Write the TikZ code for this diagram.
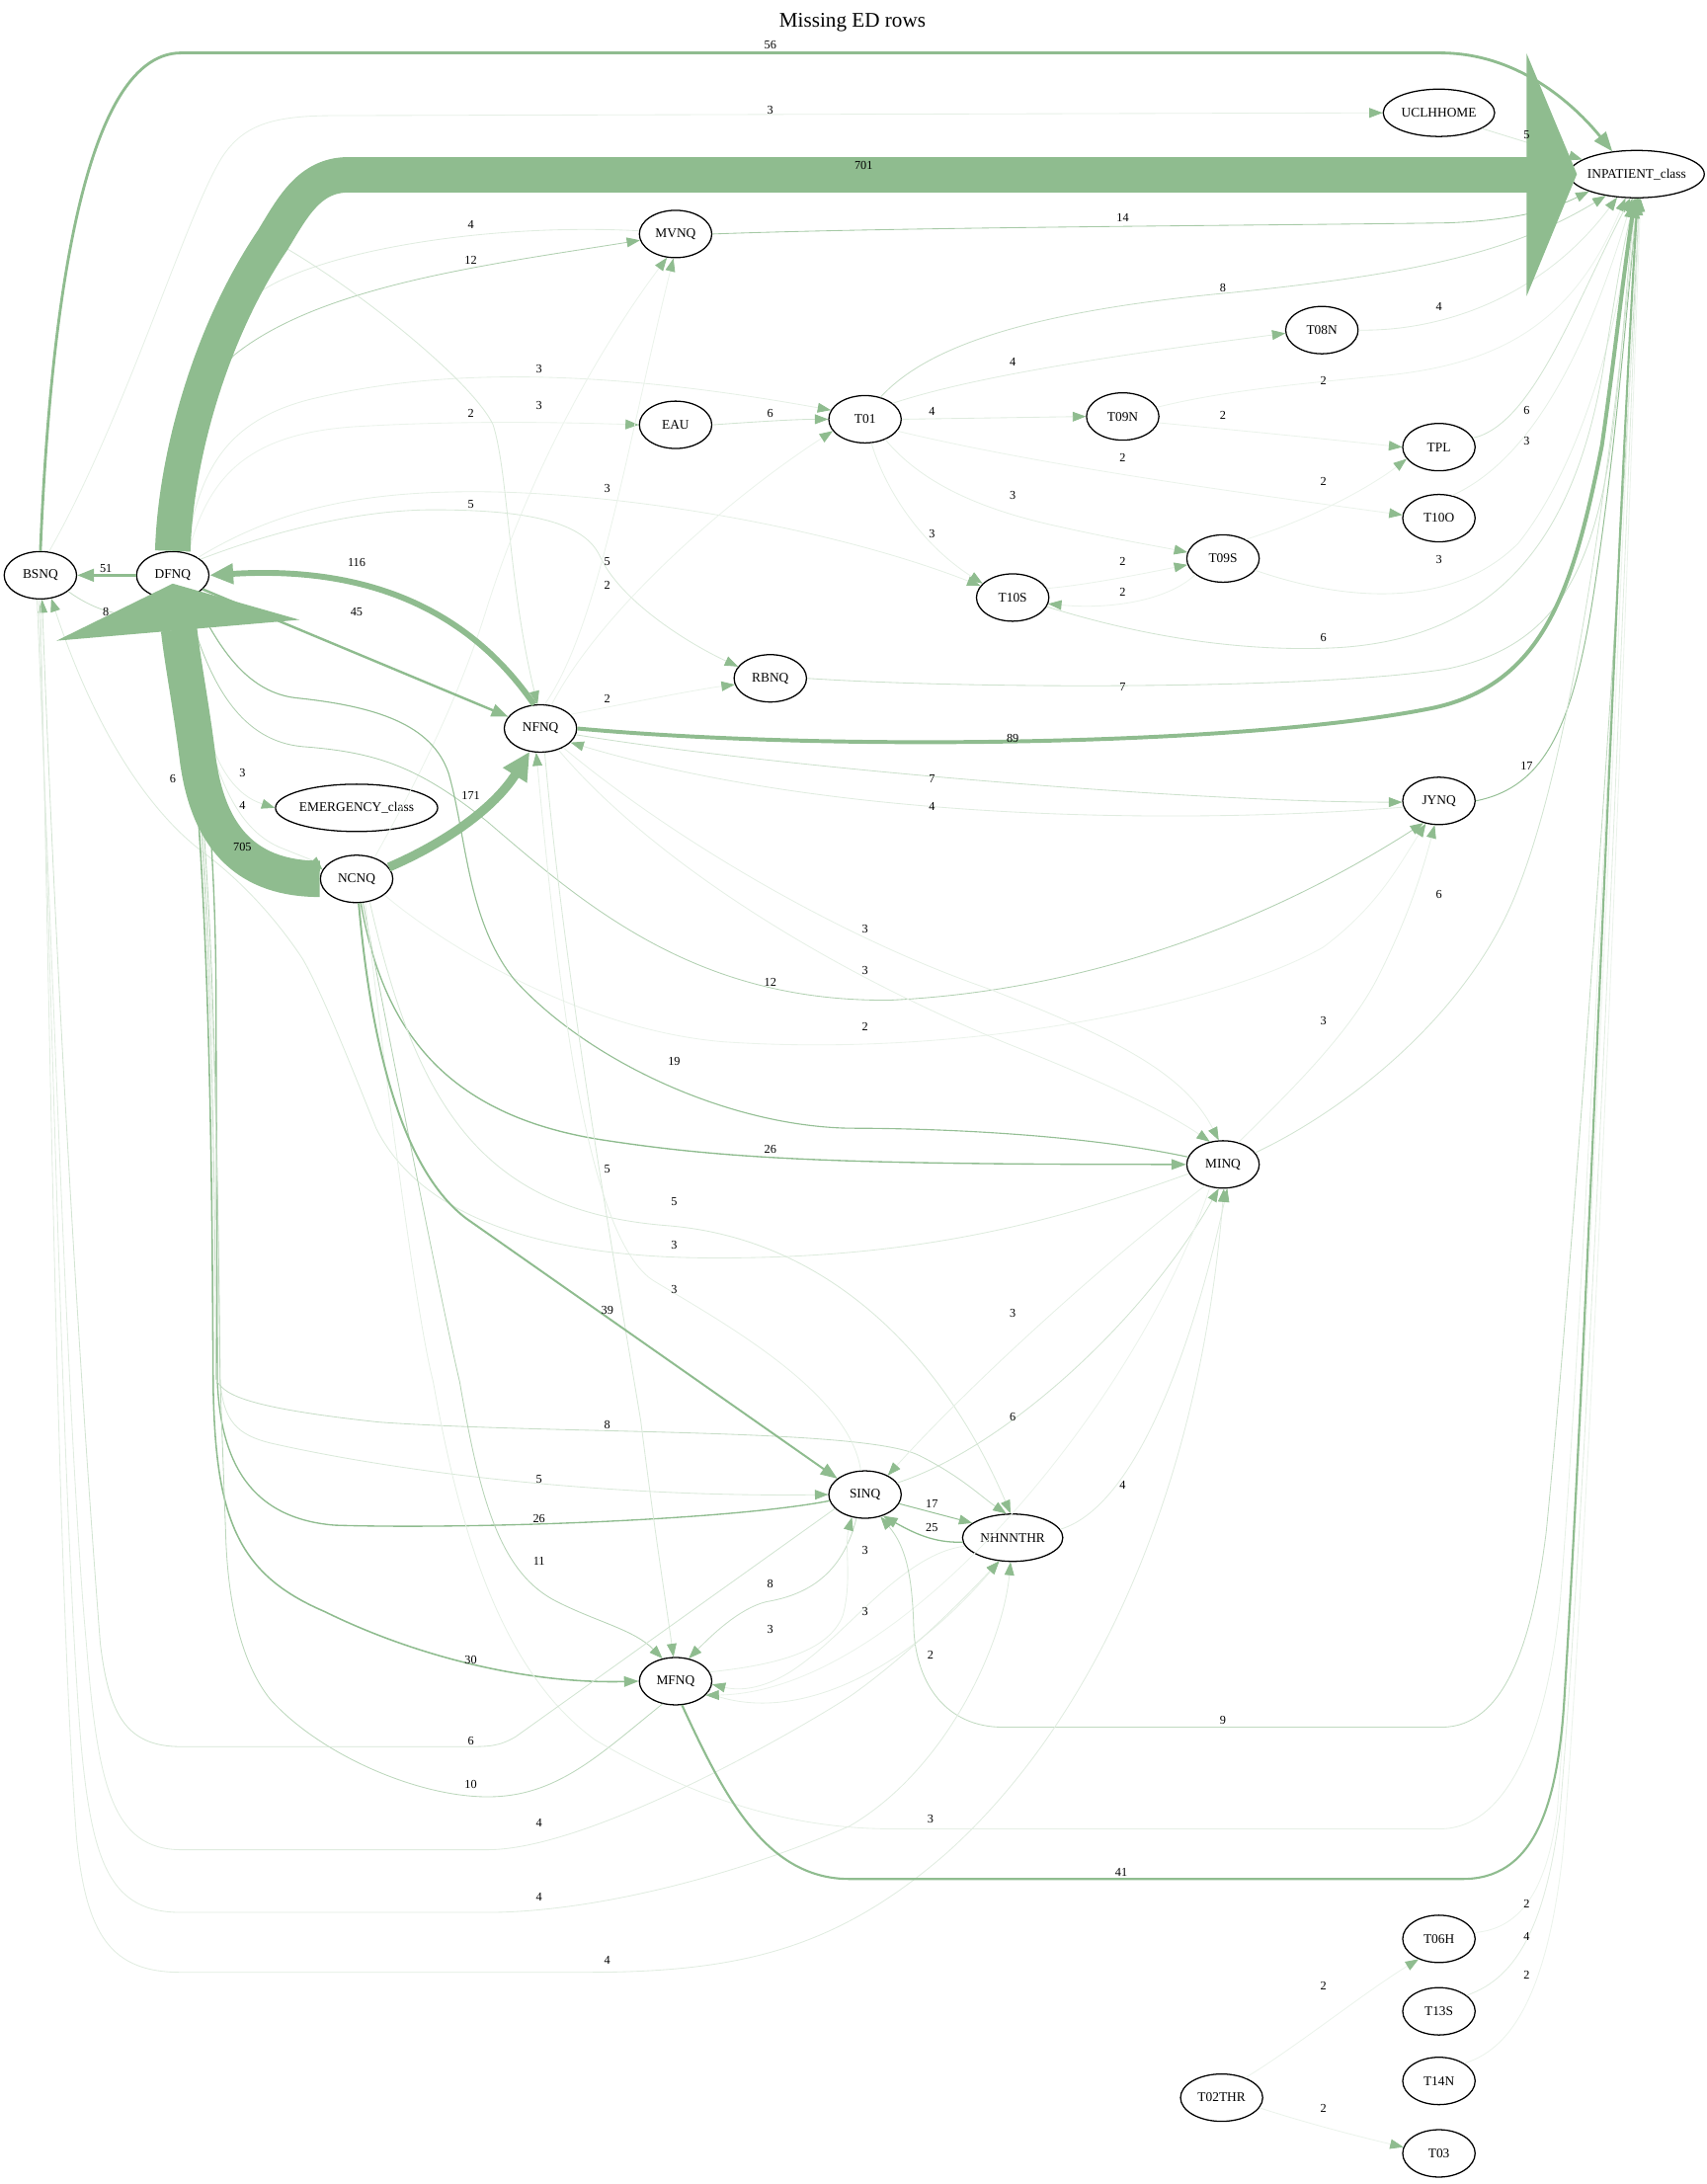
\documentclass[tikz,border=0pt]{standalone}
\usepackage{fontspec}
\setmainfont{Liberation Serif}
\usetikzlibrary{shapes.geometric,arrows.meta}
\definecolor{sg}{HTML}{8FBC8F}
\tikzset{
  nd/.style={ellipse, draw=black, line width=0.9pt, minimum width=52pt, minimum height=34pt, inner sep=0pt, font=\fontsize{9.5}{11}\selectfont},
  lab/.style={inner sep=0pt, font=\fontsize{8.7}{10}\selectfont},
  tip0/.style={-{Triangle[length=9.5pt,width=7pt,color=sg,fill=sg]}},
  tipA/.style={-{Triangle[length=12pt,width=9pt,color=sg,fill=sg]}},
  tipB/.style={-{Triangle[length=14pt,width=10.5pt,color=sg,fill=sg]}},
  tipC/.style={-{Triangle[length=17pt,width=14pt,color=sg,fill=sg]}},
  tipD/.style={-{Triangle[length=20pt,width=19pt,color=sg,fill=sg]}},
  ln/.style={draw=sg!#1!white, line width=0.6pt, tip0},
  lnw/.style={draw=sg, line width=#1, -{Triangle[length=10.5pt,width=7.5pt,color=sg,fill=sg]}}
}
\begin{document}
\begin{tikzpicture}[x=1pt,y=-1pt]
\useasboundingbox (0,0) rectangle (1225,1568);

\node[font=\fontsize{15}{18}\selectfont] (title) at (612,16) {Missing ED rows};

% nodes
\node[nd] (BSNQ) at (29,413) {BSNQ};
\node[nd] (DFNQ) at (124,413) {DFNQ};
\node[nd, minimum width=97pt, inner xsep=-2pt] (INP) at (1175,125) {INPATIENT\_class};
\node[nd, minimum width=80pt] (UCLH) at (1033,81) {UCLHHOME};
\node[nd] (MVNQ) at (485,168) {MVNQ};
\node[nd] (EAU) at (485,305) {EAU};
\node[nd] (T01) at (621,301) {T01};
\node[nd] (T08N) at (949,237) {T08N};
\node[nd] (T09N) at (806,299) {T09N};
\node[nd] (TPL) at (1033,321) {TPL};
\node[nd] (T10O) at (1033,372) {T10O};
\node[nd] (T09S) at (878,401) {T09S};
\node[nd] (T10S) at (727,429) {T10S};
\node[nd] (RBNQ) at (553,487) {RBNQ};
\node[nd] (NFNQ) at (388,523) {NFNQ};
\node[nd] (JYNQ) at (1033,575) {JYNQ};
\node[nd] (EMER) at (256,580) {EMERGENCY\_class};
\node[nd] (NCNQ) at (256,631) {NCNQ};
\node[nd] (MINQ) at (878,836) {MINQ};
\node[nd] (SINQ) at (621,1073) {SINQ};
\node[nd, minimum width=72pt] (NHNN) at (727,1104) {NHNNTHR};
\node[nd] (MFNQ) at (485,1207) {MFNQ};
\node[nd] (T06H) at (1033,1392) {T06H};
\node[nd] (T13S) at (1033,1444) {T13S};
\node[nd] (T14N) at (1033,1494) {T14N};
\node[nd, minimum width=59pt] (T02) at (877,1506) {T02THR};
\node[nd] (T03) at (1033,1546) {T03};

% ---------- thin edges ----------
\draw[ln=22] (BSNQ.70) .. controls (90,300) and (135,150) .. (160,112) .. controls (175,90) and (195,83) .. (240,83) -- (UCLH.west);
\draw[ln=33] (UCLH.-20) -- (INP.165);
\draw[ln=80] (MVNQ.east) .. controls (650,163) and (900,162) .. (1040,160) .. controls (1090,158) and (1115,150) .. (INP.200);
\draw[ln=70] (DFNQ.80) .. controls (135,320) and (140,285) .. (168,255) .. controls (230,205) and (350,190) .. (MVNQ.190);
\draw[ln=28] (MVNQ.175) .. controls (350,160) and (230,180) .. (186,210) .. controls (150,240) and (130,330) .. (DFNQ.95);
\draw[ln=22] (DFNQ.60) .. controls (143,340) and (160,300) .. (230,285) .. controls (330,262) and (450,268) .. (T01.165);
\draw[ln=18] (DFNQ.55) .. controls (150,340) and (180,310) .. (260,306) .. controls (330,302) and (400,303) .. (EAU.west);
\draw[ln=22] (DFNQ.35) .. controls (200,365) and (260,353) .. (340,353) .. controls (450,353) and (600,380) .. (T10S.160);
\draw[ln=33] (DFNQ.30) .. controls (200,380) and (260,366) .. (311,366) .. controls (380,366) and (420,375) .. (431,400) .. controls (445,430) and (490,460) .. (RBNQ.160);
\draw[ln=33] (DFNQ.88) .. controls (130,280) and (170,200) .. (205,178) .. controls (260,210) and (340,275) .. (354,305) .. controls (365,340) and (365,420) .. (NFNQ.97);
\draw[ln=40] (EAU.east) .. controls (540,303) and (570,301) .. (T01.180);
\draw[ln=18] (NFNQ.65) .. controls (430,440) and (520,360) .. (T01.200);
\draw[ln=18] (NFNQ.25) .. controls (450,505) and (500,495) .. (RBNQ.190);
\draw[ln=18] (NFNQ.80) .. controls (430,450) and (450,320) .. (MVNQ.-95);
\draw[ln=18] (NCNQ.50) .. controls (300,560) and (330,500) .. (350,435) .. controls (380,340) and (430,250) .. (MVNQ.-110);

\draw[ln=28] (T01.30) .. controls (700,270) and (800,255) .. (T08N.185);
\draw[ln=50] (T01.55) .. controls (660,255) and (720,225) .. (885,210) .. controls (1000,198) and (1080,185) .. (INP.215);
\draw[ln=28] (T01.east) -- (T09N.west);
\draw[ln=18] (T01.-20) .. controls (750,335) and (900,355) .. (T10O.175);
\draw[ln=22] (T01.-45) .. controls (660,345) and (700,365) .. (760,378) .. controls (800,387) and (830,392) .. (T09S.170);
\draw[ln=22] (T01.-75) .. controls (635,350) and (660,390) .. (T10S.155);
\draw[ln=18] (T09N.-10) .. controls (900,310) and (950,315) .. (TPL.180);
\draw[ln=18] (T09N.15) .. controls (880,280) and (940,275) .. (990,270) .. controls (1080,262) and (1130,230) .. (INP.245);
\draw[ln=28] (T08N.east) .. controls (1040,238) and (1110,210) .. (INP.230);
\draw[ln=40] (TPL.15) .. controls (1100,305) and (1130,220) .. (INP.255);
\draw[ln=22] (T10O.60) .. controls (1100,330) and (1140,250) .. (INP.260);
\draw[ln=18] (T09S.40) .. controls (950,370) and (990,345) .. (TPL.200);
\draw[ln=18] (T10S.15) .. controls (780,420) and (820,412) .. (T09S.190);
\draw[ln=18] (T09S.-150) .. controls (840,430) and (800,438) .. (T10S.-10);
\draw[ln=22] (T09S.-20) .. controls (960,430) and (1040,440) .. (1090,390) .. controls (1130,340) and (1160,250) .. (INP.264);
\draw[ln=40] (T10S.-15) .. controls (830,460) and (900,468) .. (960,465) .. controls (1080,458) and (1130,380) .. (1150,270) .. controls (1160,210) and (1165,175) .. (INP.268);
\draw[ln=45] (RBNQ.east) .. controls (700,495) and (950,495) .. (1040,480) .. controls (1110,465) and (1140,420) .. (1155,330) .. controls (1165,260) and (1168,190) .. (INP.270);
\draw[ln=95, line width=0.7pt] (JYNQ.east) .. controls (1110,565) and (1130,520) .. (1145,420) .. controls (1160,320) and (1168,220) .. (INP.272);
\draw[ln=40] (MINQ.20) .. controls (960,800) and (1040,740) .. (1080,660) .. controls (1130,560) and (1160,300) .. (INP.271);
\draw[ln=22] (MINQ.55) .. controls (930,780) and (970,740) .. (990,700) .. controls (1010,660) and (1020,630) .. (JYNQ.-100);
\draw[ln=18] (NCNQ.-30) .. controls (320,680) and (420,740) .. (520,748) .. controls (700,760) and (880,720) .. (950,680) .. controls (990,650) and (1005,620) .. (JYNQ.240);
\draw[ln=70] (DFNQ.-60) .. controls (150,495) and (175,532) .. (217,536) .. controls (270,540) and (300,550) .. (350,590) .. controls (420,650) and (500,720) .. (640,718) .. controls (800,710) and (930,650) .. (JYNQ.235);
\draw[ln=45] (NFNQ.-10) .. controls (550,550) and (850,576) .. (JYNQ.182);
\draw[ln=28] (JYNQ.190) .. controls (850,592) and (600,590) .. (NFNQ.-25);
\draw[ln=22] (NFNQ.-40) .. controls (480,600) and (600,672) .. (710,710) .. controls (800,745) and (850,770) .. (MINQ.100);
\draw[ln=22] (NFNQ.-50) .. controls (470,620) and (600,700) .. (730,752) .. controls (800,780) and (840,800) .. (MINQ.120);
\draw[ln=95, line width=0.8pt] (MINQ.168) .. controls (780,815) and (680,810) .. (609,810) .. controls (520,808) and (420,760) .. (369,703) .. controls (335,660) and (335,600) .. (322,555) .. controls (310,520) and (270,507) .. (212,501) .. controls (180,497) and (160,470) .. (DFNQ.-45);
\draw[lnw=0.95pt] (NCNQ.-80) .. controls (275,740) and (320,800) .. (430,818) .. controls (520,832) and (600,836) .. (MINQ.west);
\draw[ln=30] (MINQ.195) .. controls (750,880) and (650,905) .. (500,903) .. controls (380,901) and (300,870) .. (270,810) .. controls (250,760) and (230,710) .. (217,688) .. controls (195,655) and (170,630) .. (146,612) .. controls (110,585) and (70,530) .. (BSNQ.-65);
\draw[ln=25] (DFNQ.-65) .. controls (140,500) and (150,565) .. (EMER.west);
\draw[ln=28] (DFNQ.-68) .. controls (145,530) and (160,590) .. (200,608) .. controls (215,614) and (225,618) .. (NCNQ.165);
\draw[ln=50] (BSNQ.-30) .. controls (70,440) and (95,446) .. (DFNQ.-130);

% left bundle
\draw[lnw=1.1pt] (DFNQ.-80) .. controls (150,600) and (152,800) .. (153,990) .. controls (154,1090) and (170,1130) .. (233,1157) .. controls (300,1190) and (380,1209) .. (MFNQ.west);
\draw[lnw=0.95pt] (SINQ.190) .. controls (520,1092) and (330,1098) .. (240,1095) .. controls (180,1090) and (158,1050) .. (156,990) -- (155,700) .. controls (154,600) and (145,500) .. (DFNQ.-75);
\draw[ln=33] (DFNQ.-78) .. controls (152,600) and (156,800) .. (158,990) .. controls (160,1020) and (170,1030) .. (194,1036) .. controls (300,1060) and (450,1075) .. (SINQ.west);
\draw[ln=50] (DFNQ.-72) .. controls (151,600) and (154,800) .. (155,990) .. controls (160,1000) and (170,1010) .. (272,1021) .. controls (400,1030) and (620,1025) .. (660,1045) .. controls (690,1060) and (705,1075) .. (NHNN.105);
\draw[ln=60] (MFNQ.-120) .. controls (430,1260) and (400,1290) .. (350,1290) .. controls (300,1290) and (230,1260) .. (194,1220) .. controls (170,1190) and (163,1140) .. (162,1100) -- (158,990) .. controls (155,700) and (150,600) .. (DFNQ.-70);
\draw[ln=65] (NCNQ.-75) .. controls (290,800) and (320,950) .. (330,992) .. controls (345,1080) and (360,1130) .. (400,1150) .. controls (430,1165) and (455,1170) .. (MFNQ.120);
\draw[ln=22] (NCNQ.-70) .. controls (280,800) and (300,950) .. (311,992) .. controls (330,1100) and (360,1200) .. (427,1249) .. controls (480,1280) and (550,1313) .. (640,1313) -- (1034,1313) .. controls (1080,1313) and (1110,1250) .. (1120,1150) .. controls (1140,900) and (1165,300) .. (INP.273);
\draw[ln=33] (NCNQ.-60) .. controls (300,800) and (350,870) .. (480,880) .. controls (600,890) and (680,980) .. (NHNN.95);
\draw[ln=33] (NFNQ.-80) .. controls (405,700) and (440,900) .. (460,1020) .. controls (470,1100) and (478,1150) .. (MFNQ.95);
\draw[ln=22] (SINQ.100) .. controls (610,1000) and (520,950) .. (470,920) .. controls (420,890) and (400,700) .. (NFNQ.-100);

% SINQ area
\draw[ln=95, line width=0.7pt] (SINQ.-15) -- (NHNN.160);
\draw[lnw=0.9pt] (NHNN.185) .. controls (670,1108) and (655,1100) .. (SINQ.-50);
\draw[ln=40] (SINQ.20) .. controls (720,1040) and (820,950) .. (MINQ.-100);
\draw[ln=22] (MINQ.-130) .. controls (800,900) and (700,990) .. (SINQ.40);
\draw[ln=28] (NHNN.10) .. controls (820,1080) and (860,950) .. (MINQ.-80);
\draw[ln=50] (SINQ.-110) .. controls (605,1130) and (580,1145) .. (550,1150) .. controls (530,1155) and (510,1175) .. (MFNQ.60);
\draw[ln=22] (MFNQ.15) .. controls (560,1195) and (595,1185) .. (605,1160) .. controls (612,1135) and (606,1110) .. (SINQ.-120);
\draw[ln=22] (NHNN.190) .. controls (650,1115) and (610,1170) .. (575,1195) .. controls (555,1210) and (535,1215) .. (MFNQ.-5);
\draw[ln=22] (MFNQ.-20) .. controls (570,1240) and (650,1200) .. (NHNN.-120);
\draw[ln=18] (MINQ.-120) .. controls (820,1000) and (650,1215) .. (MFNQ.-25);
\draw[ln=55] (INP.276) .. controls (1165,400) and (1130,900) .. (1110,1100) .. controls (1100,1180) and (1080,1240) .. (1035,1240) -- (720,1240) .. controls (680,1240) and (658,1210) .. (656,1170) .. controls (655,1130) and (650,1110) .. (SINQ.-55);

% long bottom edges from BSNQ
\draw[ln=40] (SINQ.205) -- (370,1247) .. controls (358,1254) and (350,1254) .. (335,1254) -- (130,1254) .. controls (90,1254) and (78,1230) .. (72,1180) .. controls (58,1000) and (40,700) .. (BSNQ.-86);
\draw[ln=28] (BSNQ.-98) .. controls (40,750) and (50,1050) .. (62,1180) .. controls (70,1280) and (80,1328) .. (130,1328) -- (350,1328) .. controls (420,1328) and (560,1250) .. (610,1218) .. controls (650,1190) and (690,1150) .. (NHNN.-120);
\draw[ln=28] (BSNQ.-94) .. controls (38,750) and (46,1100) .. (58,1250) .. controls (66,1340) and (80,1373) .. (130,1373) -- (350,1373) .. controls (420,1373) and (520,1350) .. (610,1311) .. controls (680,1270) and (720,1180) .. (NHNN.-95);
\draw[ln=28] (BSNQ.-90) .. controls (36,750) and (42,1150) .. (55,1320) .. controls (62,1390) and (80,1416) .. (130,1416) -- (420,1416) .. controls (530,1416) and (600,1400) .. (680,1330) .. controls (780,1240) and (860,1080) .. (MINQ.-88);

% bottom right
\draw[ln=18] (T02.40) .. controls (930,1470) and (980,1430) .. (T06H.-135);
\draw[ln=18] (T02.-15) .. controls (940,1525) and (980,1535) .. (T03.170);
\draw[ln=18] (T06H.10) .. controls (1090,1385) and (1110,1360) .. (1118,1300) .. controls (1140,1000) and (1168,300) .. (INP.274);
\draw[ln=28] (T13S.30) .. controls (1090,1420) and (1110,1380) .. (1120,1300) .. controls (1145,1000) and (1170,300) .. (INP.277);
\draw[ln=18] (T14N.35) .. controls (1090,1470) and (1112,1420) .. (1122,1330) .. controls (1148,1000) and (1172,300) .. (INP.279);

% ---------- medium / thick edges ----------
\draw[sg, line width=1.5pt, tipA] (MFNQ.-75) .. controls (520,1290) and (550,1349) .. (610,1349) -- (1050,1349) .. controls (1100,1349) and (1118,1300) .. (1123,1220) .. controls (1140,950) and (1160,400) .. (INP.272);
\draw[sg, line width=1.4pt, tipA] (NCNQ.-85) .. controls (268,770) and (295,845) .. (335,875) -- (SINQ.150);
\draw[sg, line width=2pt, tipB] (BSNQ.north) .. controls (35,250) and (55,38) .. (130,38) -- (1034,38) .. controls (1090,38) and (1130,75) .. (INP.137);
\draw[sg, line width=1.9pt, tipA] (DFNQ.west) -- (BSNQ.east);
\draw[sg, line width=1.7pt, tipA] (DFNQ.-25) -- (NFNQ.160);
\draw[sg, line width=2.8pt, tipB] (NFNQ.east) .. controls (600,540) and (900,535) .. (1030,508) .. controls (1110,490) and (1130,420) .. (1150,320) .. controls (1160,250) and (1165,200) .. (INP.266);
\draw[sg, line width=4.2pt, tipC] (NFNQ.105) .. controls (345,450) and (280,405) .. (DFNQ.east);
\draw[sg, line width=6.5pt, tipD] (NCNQ.20) .. controls (320,605) and (355,580) .. (NFNQ.245);

% 701
\draw[sg, line width=25.4pt] (DFNQ.north) .. controls (126,330) and (150,240) .. (196,172) .. controls (210,149) and (222,125.5) .. (250,125.5) -- (1097,125.5);
\fill[sg] (1096,38.5) -- ([xshift=6pt]INP.west) -- (1096,212.5) -- cycle;
% 705
\draw[sg, line width=26pt] (NCNQ.west) .. controls (180,631) and (150,605) .. (142,545) .. controls (137,505) and (131,475) .. (128.5,452);
\fill[sg] (40.6,460) -- ([yshift=-6pt]DFNQ.center) -- (215,445) -- cycle;

% ---------- labels ----------
\node[lab] (l01) at (553,32) {56};
\node[lab] (l02) at (553,79) {3};
\node[lab] (l03) at (1096,97) {5};
\node[lab] (l04) at (620,119) {701};
\node[lab] (l05) at (806,156) {14};
\node[lab] (l06) at (338,161) {4};
\node[lab] (l07) at (338,187) {12};
\node[lab] (l08) at (878,207) {8};
\node[lab] (l09) at (1033,220) {4};
\node[lab] (l10) at (727,260) {4};
\node[lab] (l11) at (387,265) {3};
\node[lab] (l12) at (950,273) {2};
\node[lab] (l13) at (387,291) {3};
\node[lab] (l14) at (338,297) {2};
\node[lab] (l15) at (553,297) {6};
\node[lab] (l16) at (669,295) {4};
\node[lab] (l17) at (878,298) {2};
\node[lab] (l18) at (1096,295) {6};
\node[lab] (l19) at (1096,317) {3};
\node[lab] (l20) at (806,329) {2};
\node[lab] (l21) at (950,346) {2};
\node[lab] (l22) at (727,356) {3};
\node[lab] (l23) at (338,362) {5};
\node[lab] (l24) at (436,351) {3};
\node[lab] (l25) at (669,383) {3};
\node[lab] (l26) at (806,403) {2};
\node[lab] (l27) at (1033,402) {3};
\node[lab] (l28) at (256,404) {116};
\node[lab] (l29) at (436,403) {5};
\node[lab] (l30) at (436,420) {2};
\node[lab] (l31) at (806,425) {2};
\node[lab] (l32) at (76,408) {51};
\node[lab] (l33) at (76,439) {8};
\node[lab] (l34) at (256,439) {45};
\node[lab] (l35) at (950,458) {6};
\node[lab] (l36) at (806,493) {7};
\node[lab] (l37) at (436,502) {2};
\node[lab] (l38) at (727,530) {89};
\node[lab] (l39) at (1096,550) {17};
\node[lab] (l40) at (174,555) {3};
\node[lab] (l41) at (669,559) {7};
\node[lab] (l42) at (124,559) {6};
\node[lab] (l43) at (338,571) {171};
\node[lab] (l44) at (174,578) {4};
\node[lab] (l45) at (669,579) {4};
\node[lab] (l46) at (174,608) {705};
\node[lab] (l47) at (1033,642) {6};
\node[lab] (l48) at (621,667) {3};
\node[lab] (l49) at (621,697) {3};
\node[lab] (l50) at (553,705) {12};
\node[lab] (l51) at (950,733) {3};
\node[lab] (l52) at (621,737) {2};
\node[lab] (l53) at (484,762) {19};
\node[lab] (l54) at (553,825) {26};
\node[lab] (l55) at (436,839) {5};
\node[lab] (l56) at (484,863) {5};
\node[lab] (l57) at (484,894) {3};
\node[lab] (l58) at (484,926) {3};
\node[lab] (l59) at (436,941) {39};
\node[lab] (l60) at (727,943) {3};
\node[lab] (l61) at (727,1017) {6};
\node[lab] (l62) at (436,1023) {8};
\node[lab] (l63) at (387,1062) {5};
\node[lab] (l64) at (806,1066) {4};
\node[lab] (l65) at (669,1080) {17};
\node[lab] (l66) at (387,1090) {26};
\node[lab] (l67) at (669,1097) {25};
\node[lab] (l68) at (621,1113) {3};
\node[lab] (l69) at (387,1121) {11};
\node[lab] (l70) at (553,1137) {8};
\node[lab] (l71) at (621,1157) {3};
\node[lab] (l72) at (553,1170) {3};
\node[lab] (l73) at (668,1188) {2};
\node[lab] (l74) at (338,1192) {30};
\node[lab] (l75) at (878,1235) {9};
\node[lab] (l76) at (338,1250) {6};
\node[lab] (l77) at (338,1281) {10};
\node[lab] (l78) at (668,1306) {3};
\node[lab] (l79) at (387,1309) {4};
\node[lab] (l80) at (805,1344) {41};
\node[lab] (l81) at (387,1362) {4};
\node[lab] (l82) at (1096,1367) {2};
\node[lab] (l83) at (1096,1390) {4};
\node[lab] (l84) at (436,1407) {4};
\node[lab] (l85) at (1096,1418) {2};
\node[lab] (l86) at (950,1426) {2};
\node[lab] (l87) at (950,1514) {2};
\end{tikzpicture}
\end{document}
